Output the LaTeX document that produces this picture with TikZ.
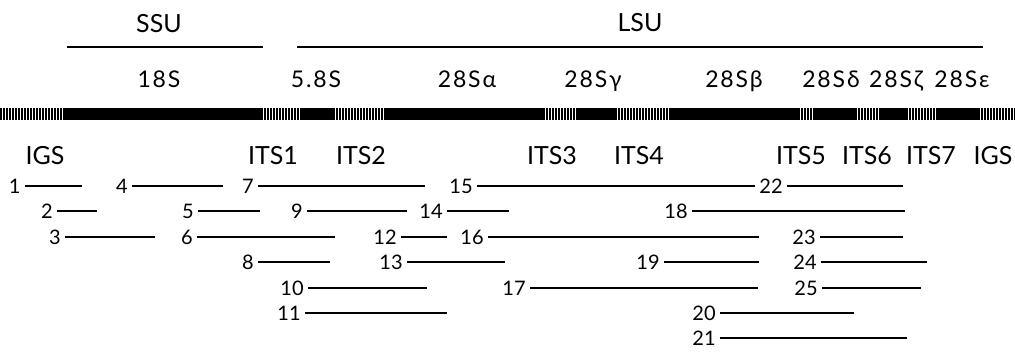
\documentclass[tikz,border=0pt]{standalone}
\usepackage{fontspec}
\setmainfont{Lato}
\usepackage{tikz}
\usetikzlibrary{positioning,calc}
\tikzset{x=0.5pt,y=-0.5pt,
unit/.style={line width=1.4pt},
hatch/.style={line width=6pt,dash pattern=on 0.75pt off 0.75pt},
solid bar/.style={line width=6pt},
big/.style={font=\fontsize{12.5}{14}\selectfont,anchor=base,inner sep=0pt},
gene/.style={font=\fontsize{11.5}{13}\selectfont\addfontfeatures{LetterSpace=8},anchor=base,inner sep=0pt},
num/.style={font=\fontsize{10}{12}\selectfont,anchor=east,inner sep=2pt},
frag/.style={line width=0.65pt},
}

\begin{document}
\begin{tikzpicture}
	\useasboundingbox (0,0) rectangle (1015,352);

	% subunits
	\node[big] (ssu) at (159,33) {SSU};
	\node[big] (lsu) at (640,32) {LSU};
	\coordinate (ssua) at (67,47);
	\coordinate (ssub) at (263,47);
	\coordinate (lsua) at (297,47);
	\coordinate (lsub) at (983,47);
	\draw[unit] (ssua) -- (ssub);
	\draw[unit] (lsua) -- (lsub);

	% coding regions
	\node[gene] (g18) at (159,88) {18S};
	\node[gene] (g58) at (316,88) {5.8S};
	\node[gene] (ga) at (467,88) {28Sα};
	\node[gene] (gg) at (593,88) {28Sγ};
	\node[gene] (gb) at (734,88) {28Sβ};
	\node[gene] (gd) at (831,88) {28Sδ};
	\node[gene] (gz) at (896,88) {28Sζ};
	\node[gene] (ge) at (962,88) {28Sε};

	% the operon
	\draw[hatch] (0,114) -- (1015,114);
	\draw[solid bar] (65,114) -- (263,114);
	\draw[solid bar] (302,114) -- (335,114);
	\draw[solid bar] (385,114) -- (543,114);
	\draw[solid bar] (577,114) -- (617,114);
	\draw[solid bar] (670,114) -- (798,114);
	\draw[solid bar] (813,114) -- (855,114);
	\draw[solid bar] (880,114) -- (908,114);
	\draw[solid bar] (937,114) -- (980,114);

	% spacers
	\node[big] (igsl) at (45,165) {IGS};
	\node[big] (its1) at (273,165) {ITS1};
	\node[big] (its2) at (361,165) {ITS2};
	\node[big] (its3) at (552,165) {ITS3};
	\node[big] (its4) at (639,165) {ITS4};
	\node[big] (its5) at (801,165) {ITS5};
	\node[big] (its6) at (867,165) {ITS6};
	\node[big] (its7) at (931,165) {ITS7};
	\node[big] (igsr) at (993,165) {IGS};

	% fragments
	\node[num] (n1) at (25,186) {1};
	\node[num] (n2) at (57,211) {2};
	\node[num] (n3) at (65,237) {3};
	\node[num] (n4) at (132,186) {4};
	\node[num] (n5) at (198,211) {5};
	\node[num] (n6) at (197,237) {6};
	\node[num] (n7) at (258,186) {7};
	\node[num] (n8) at (258,262) {8};
	\node[num] (n9) at (307,211) {9};
	\node[num] (n10) at (308,288) {10};
	\node[num] (n11) at (305,313) {11};
	\node[num] (n12) at (401,237) {12};
	\node[num] (n13) at (407,262) {13};
	\node[num] (n14) at (447,211) {14};
	\node[num] (n15) at (477,186) {15};
	\node[num] (n16) at (488,237) {16};
	\node[num] (n17) at (530,288) {17};
	\node[num] (n18) at (692,211) {18};
	\node[num] (n19) at (664,262) {19};
	\node[num] (n20) at (720,313) {20};
	\node[num] (n21) at (720,338) {21};
	\node[num] (n22) at (787,186) {22};
	\node[num] (n23) at (820,237) {23};
	\node[num] (n24) at (821,262) {24};
	\node[num] (n25) at (822,288) {25};

	\coordinate (e1) at (82,186);
	\coordinate (e2) at (97,211);
	\coordinate (e3) at (155,237);
	\coordinate (e4) at (223,186);
	\coordinate (e5) at (260,211);
	\coordinate (e6) at (335,237);
	\coordinate (e7) at (425,186);
	\coordinate (e8) at (330,262);
	\coordinate (e9) at (407,211);
	\coordinate (e10) at (427,288);
	\coordinate (e11) at (447,313);
	\coordinate (e12) at (447,237);
	\coordinate (e13) at (505,262);
	\coordinate (e14) at (509,211);
	\coordinate (e16) at (759,237);
	\coordinate (e17) at (758,288);
	\coordinate (e18) at (905,211);
	\coordinate (e19) at (759,262);
	\coordinate (e20) at (854,313);
	\coordinate (e21) at (907,338);
	\coordinate (e22) at (903,186);
	\coordinate (e23) at (903,237);
	\coordinate (e24) at (927,262);
	\coordinate (e25) at (921,288);

	\path[frag]
	(n1) edge (e1)
	(n2) edge (e2)
	(n3) edge (e3)
	(n4) edge (e4)
	(n5) edge (e5)
	(n6) edge (e6)
	(n7) edge (e7)
	(n8) edge (e8)
	(n9) edge (e9)
	(n10) edge (e10)
	(n11) edge (e11)
	(n12) edge (e12)
	(n13) edge (e13)
	(n14) edge (e14)
	(n15) edge (n22)
	(n16) edge (e16)
	(n17) edge (e17)
	(n18) edge (e18)
	(n19) edge (e19)
	(n20) edge (e20)
	(n21) edge (e21)
	(n22) edge (e22)
	(n23) edge (e23)
	(n24) edge (e24)
	(n25) edge (e25)
	;
\end{tikzpicture}
\end{document}
